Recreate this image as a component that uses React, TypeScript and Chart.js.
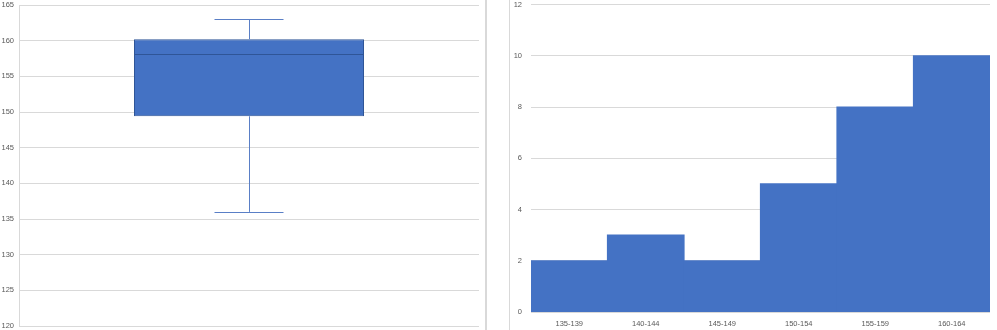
import React, { useEffect, useRef } from "react";
import { Chart, registerables } from "chart.js";

Chart.register(...registerables);

// Box plot statistics (heights)
const boxCategories = [""];
const boxMin = [136];
const boxQ1 = [149.4];
const boxMedian = [158.1];
const boxQ3 = [160.2];
const boxMax = [163];
const boxTicks = { min: 120, max: 165, step: 5 };

// Histogram
const binLabels = ["135-139", "140-144", "145-149", "150-154", "155-159", "160-164"];
const binCounts = [2, 3, 2, 5, 8, 10];
const histTicks = { min: 0, max: 12, step: 2 };

const FONT = "'Liberation Sans', Arial, sans-serif";
const TICK_COLOR = "#595959";
const GRID_COLOR = "#D9D9D9";
const FILL = "#4472C4";
const WHISKER = "#5A7FC6";
const BORDER = "#2F5597";

const noPad = (s: any) => {
  s.paddingTop = 0;
  s.paddingBottom = 0;
  s.paddingLeft = 0;
  s.paddingRight = 0;
};

const whiskerPlugin = {
  id: "whiskers",
  afterDatasetsDraw(chart: any) {
    const ctx = chart.ctx;
    const meta = chart.getDatasetMeta(0);
    const y = chart.scales.y;
    meta.data.forEach((bar: any, i: number) => {
      const { x, width } = bar.getProps(["x", "width"], true);
      const capHalf = width * 0.15;
      const yMin = y.getPixelForValue(boxMin[i]);
      const yQ1 = y.getPixelForValue(boxQ1[i]);
      const yMed = y.getPixelForValue(boxMedian[i]);
      const yQ3 = y.getPixelForValue(boxQ3[i]);
      const yMax = y.getPixelForValue(boxMax[i]);
      ctx.save();
      ctx.strokeStyle = WHISKER;
      ctx.lineWidth = 1;
      ctx.beginPath();
      const xs = Math.round(x) + 0.5;
      ctx.moveTo(xs, yQ3);
      ctx.lineTo(xs, yMax);
      ctx.moveTo(xs, yQ1);
      ctx.lineTo(xs, yMin);
      ctx.moveTo(x - capHalf, Math.round(yMax) + 0.5);
      ctx.lineTo(x + capHalf, Math.round(yMax) + 0.5);
      ctx.moveTo(x - capHalf, Math.round(yMin) + 0.5);
      ctx.lineTo(x + capHalf, Math.round(yMin) + 0.5);
      ctx.stroke();
      ctx.strokeStyle = BORDER;
      ctx.beginPath();
      ctx.moveTo(x - width / 2, Math.round(yMed) + 0.5);
      ctx.lineTo(x + width / 2, Math.round(yMed) + 0.5);
      ctx.stroke();
      ctx.restore();
    });
  },
};

function BoxChart() {
  const ref = useRef<HTMLCanvasElement>(null);
  useEffect(() => {
    const chart = new Chart(ref.current!, {
      type: "bar",
      data: {
        labels: boxCategories,
        datasets: [
          {
            data: boxQ1.map((q, i) => [q, boxQ3[i]]) as any,
            backgroundColor: FILL,
            borderColor: BORDER,
            borderWidth: 1,
            borderSkipped: false,
            categoryPercentage: 1,
            barPercentage: 0.5,
          },
        ],
      },
      options: {
        responsive: false,
        animation: false,
        layout: { padding: { top: 5, bottom: 4, left: 0, right: 7 } },
        plugins: { legend: { display: false }, tooltip: { enabled: false } },
        scales: {
          x: { display: false },
          y: {
            min: boxTicks.min,
            max: boxTicks.max,
            ticks: {
              stepSize: boxTicks.step,
              color: TICK_COLOR,
              font: { family: FONT, size: 7.5 },
              padding: 5,
            },
            grid: { color: GRID_COLOR, drawTicks: false },
            border: { display: true, color: GRID_COLOR },
            afterFit: (s: any) => {
              s.width = 19;
              noPad(s);
            },
          },
        },
      },
      plugins: [whiskerPlugin],
    });
    return () => chart.destroy();
  }, []);
  return <canvas ref={ref} width={486} height={330} />;
}

function HistChart() {
  const ref = useRef<HTMLCanvasElement>(null);
  useEffect(() => {
    const chart = new Chart(ref.current!, {
      type: "bar",
      data: {
        labels: binLabels,
        datasets: [
          {
            data: binCounts,
            backgroundColor: FILL,
            borderWidth: 0,
            inflateAmount: 0.6,
            categoryPercentage: 1,
            barPercentage: 1,
          } as any,
        ],
      },
      options: {
        responsive: false,
        animation: false,
        layout: { padding: { top: 4.5, bottom: 0, left: 0, right: 7 } },
        plugins: { legend: { display: false }, tooltip: { enabled: false } },
        scales: {
          x: {
            grid: { display: false, drawTicks: false },
            border: { display: false },
            ticks: {
              color: TICK_COLOR,
              font: { family: FONT, size: 7.5 },
              padding: 7,
              maxRotation: 0,
            },
            afterFit: (s: any) => {
              s.height = 18;
              noPad(s);
            },
          },
          y: {
            min: histTicks.min,
            max: histTicks.max,
            ticks: {
              stepSize: histTicks.step,
              color: TICK_COLOR,
              font: { family: FONT, size: 7.5 },
              padding: 9,
            },
            grid: { color: GRID_COLOR, drawTicks: false },
            border: { display: false },
            afterFit: (s: any) => {
              s.width = 45;
              noPad(s);
            },
          },
        },
      },
    });
    return () => chart.destroy();
  }, []);
  return <canvas ref={ref} width={511} height={330} />;
}

export default function App() {
  return (
    <div
      style={{
        position: "absolute",
        left: 0,
        top: 0,
        width: 997,
        height: 330,
        background: "#fff",
        overflow: "hidden",
      }}
    >
      <div style={{ position: "absolute", left: 0, top: 0 }}>
        <BoxChart />
      </div>
      <div style={{ position: "absolute", left: 486, top: 0 }}>
        <HistChart />
      </div>
      <div
        style={{
          position: "absolute",
          left: 485,
          top: 0,
          width: 2,
          height: 330,
          background: "#D9D9D9",
        }}
      />
      <div
        style={{
          position: "absolute",
          left: 509,
          top: 0,
          width: 1,
          height: 330,
          background: "#D9D9D9",
        }}
      />
    </div>
  );
}
